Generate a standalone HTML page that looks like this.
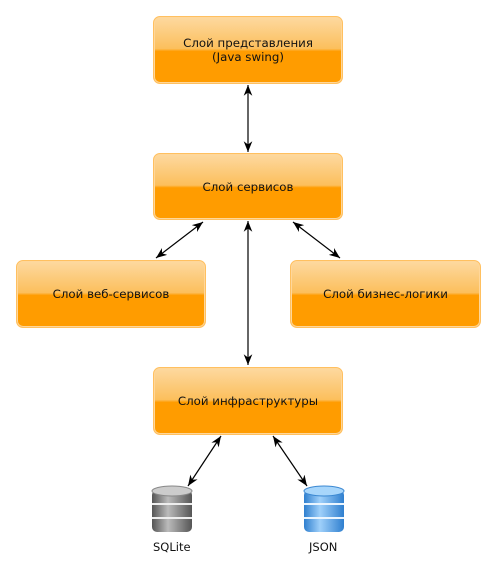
<!DOCTYPE html>
<html><head><meta charset="utf-8"><style>
body{margin:0;width:496px;height:571px;background:#fff;overflow:hidden;position:relative;font-family:"DejaVu Sans","Liberation Sans",sans-serif;font-size:11.8px;color:#111}
.b{position:absolute;box-sizing:border-box;border:1px solid #ffc060;border-radius:7px;background:linear-gradient(#fdd9a0 0%,#fcbf5c 48%,#ff9c00 52%,#ff9c00 100%);display:flex;align-items:center;justify-content:center;text-align:center;line-height:14px;box-shadow:inset 0 0 0 1px #ffd79a}
.l{position:absolute;font-size:11.5px}
</style></head><body>
<div class="b" style="left:153px;top:16px;width:190px;height:68px">Слой представления<br>(Java swing)</div>
<div class="b" style="left:153px;top:153px;width:190px;height:67px">Слой сервисов</div>
<div class="b" style="left:16px;top:260px;width:190px;height:68px">Слой веб-сервисов</div>
<div class="b" style="left:290px;top:260px;width:191px;height:68px">Слой бизнес-логики</div>
<div class="b" style="left:153px;top:367px;width:190px;height:68px">Слой инфраструктуры</div>
<svg width="496" height="571" style="position:absolute;left:0;top:0">
<defs>
<marker id="a" viewBox="0 0 10 10" refX="10" refY="5" markerWidth="9" markerHeight="9" orient="auto-start-reverse"><path d="M0,1 L10,5 L0,9 L3,5z" fill="#000"/></marker>
<linearGradient id="g" x1="0" x2="1"><stop offset="0" stop-color="#555"/><stop offset=".4" stop-color="#bbb"/><stop offset="1" stop-color="#555"/></linearGradient>
<linearGradient id="bl" x1="0" x2="1"><stop offset="0" stop-color="#2f7fcf"/><stop offset=".4" stop-color="#9fd0fa"/><stop offset="1" stop-color="#2f7fcf"/></linearGradient>
</defs>
<g stroke="#000" stroke-width="1.2" fill="none" marker-start="url(#a)" marker-end="url(#a)">
<line x1="248" y1="85" x2="248" y2="152"/>
<line x1="203" y1="222" x2="156" y2="258"/>
<line x1="293" y1="222" x2="340" y2="258"/>
<line x1="248" y1="221" x2="248" y2="365"/>
<line x1="221" y1="436" x2="188" y2="486"/>
<line x1="273" y1="436" x2="307" y2="486"/>
</g>
<g>
<rect x="152" y="490" width="40" height="42" rx="5" fill="url(#g)"/>
<ellipse cx="172" cy="491" rx="20" ry="5" fill="#ccc" stroke="#888"/>
<line x1="152" y1="504" x2="192" y2="504" stroke="#eee" stroke-width="2"/>
<line x1="152" y1="518" x2="192" y2="518" stroke="#eee" stroke-width="2"/>
<rect x="304" y="490" width="40" height="42" rx="5" fill="url(#bl)"/>
<ellipse cx="324" cy="491" rx="20" ry="5" fill="#a8d6fb" stroke="#3b88d2"/>
<line x1="304" y1="504" x2="344" y2="504" stroke="#eaf5ff" stroke-width="2"/>
<line x1="304" y1="518" x2="344" y2="518" stroke="#eaf5ff" stroke-width="2"/>
</g>
</svg>
<div class="l" style="left:153px;top:540px">SQLite</div>
<div class="l" style="left:309px;top:540px">JSON</div>
</body></html>
